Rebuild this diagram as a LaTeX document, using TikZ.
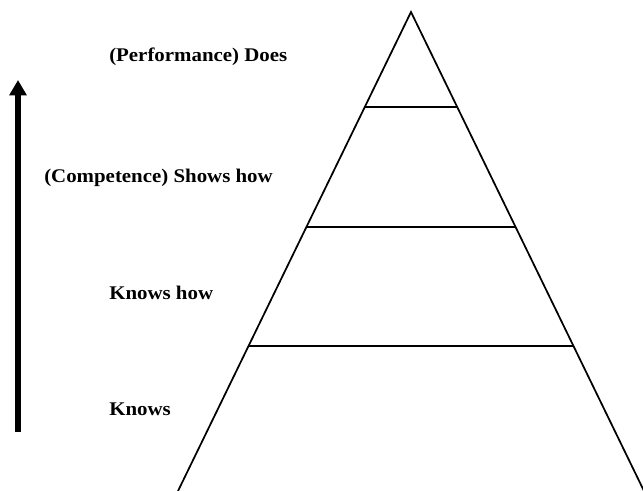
\documentclass[tikz,border=0pt]{standalone}
\usepackage{fontspec}
\setmainfont{Liberation Serif}
\newfontfamily\lblfont[FakeStretch=1.08]{Liberation Serif}
\usetikzlibrary{arrows.meta,calc}
\tikzset{
  level/.style={anchor=west,inner sep=0pt,font=\lblfont\fontsize{14.5}{17}\selectfont\bfseries},
  side/.style={line width=1.3pt,line join=miter},
  divider/.style={line width=1.7pt},
  progress/.style={line width=3.8pt,-{Triangle[length=11.5pt,width=12.5pt]}},
}
\begin{document}
\begin{tikzpicture}[x=0.75pt,y=-0.75pt]
\useasboundingbox (0,0) rectangle (643,491);
% pyramid corners
\coordinate (apex) at (411,12);
\coordinate (bl) at (178,491);
\coordinate (br) at (644,491);
\draw[side] (bl) -- (apex) -- (br);

% dividers between levels
\draw[divider] ($(apex)!0.1983!(bl)$) -- ($(apex)!0.1983!(br)$);
\draw[divider] ($(apex)!0.4489!(bl)$) -- ($(apex)!0.4489!(br)$);
\draw[divider] ($(apex)!0.6973!(bl)$) -- ($(apex)!0.6973!(br)$);

% level labels
\node[level] (does) at (109,57) {(Performance) Does};
\node[level] (shows) at (44,178) {(Competence) Shows how};
\node[level] (knowshow) at (109,293) {Knows how};
\node[level] (knows) at (109,409) {Knows};

% arrow on the left
\coordinate (low) at (18,432);
\coordinate (high) at (18,80);
\draw[progress] (low) -- (high);
\end{tikzpicture}
\end{document}
